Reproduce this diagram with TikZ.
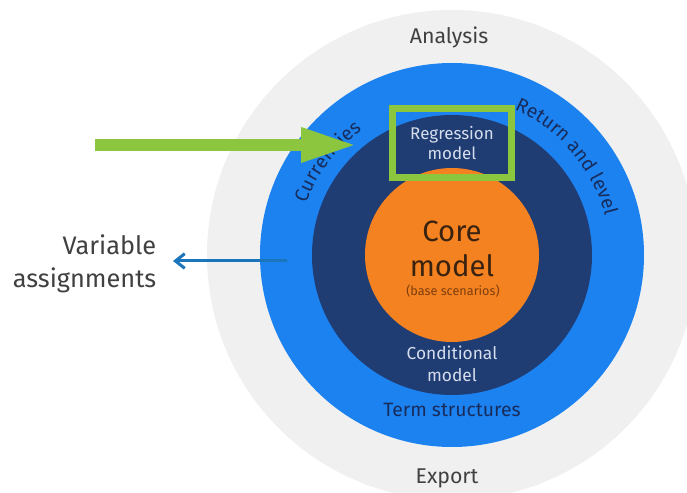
\documentclass[tikz,border=0pt]{standalone}
\usepackage{fontspec}
\setmainfont{Fira Sans}
\usepackage{tikz}
\usetikzlibrary{calc,arrows.meta,decorations.text}

\definecolor{ringgray}{RGB}{240,240,240}
\definecolor{ringblue}{RGB}{28,130,240}
\definecolor{ringnavy}{RGB}{31,60,115}
\definecolor{coreorange}{RGB}{244,130,32}
\definecolor{markgreen}{RGB}{140,198,63}
\definecolor{arrowblue}{RGB}{27,117,187}
\definecolor{labelgray}{RGB}{64,64,64}
\definecolor{navytext}{RGB}{24,44,92}
\definecolor{paletext}{RGB}{214,222,238}
\definecolor{browntext}{RGB}{58,34,16}
\definecolor{scentext}{RGB}{125,62,14}

\newcommand{\fsz}[2]{\fontsize{#1}{#2}\selectfont}
\newcommand{\ringfont}{\fsz{14.5}{17}\color{navytext}}

\tikzset{
  ringlabel/.style={decorate, decoration={text along path, text align=center, text={|\ringfont|#1}}},
  outerlabel/.style={text=labelgray, font=\fsz{16}{19}},
  innerlabel/.style={text=paletext, align=center},
}

\begin{document}
\begin{tikzpicture}[x=0.75pt, y=0.75pt]
\clip (0,0) rectangle (687,493);
\fill[white] (0,0) rectangle (687,493);
\coordinate (c) at (452,238);
% rings
\fill[ringgray] (c) circle[radius=245];
\fill[ringblue] (c) circle[radius=192];
\fill[ringnavy] (c) circle[radius=140];
\fill[coreorange] (c) circle[radius=87];

% ring texts
\node[outerlabel] (analysis) at (449,456) {Analysis};
\node[outerlabel] (export) at (447,15) {Export};
\node[text=navytext, font=\fsz{14.5}{17}] (term) at (452,83) {Term structures};
\path[ringlabel={Currencies}] ($(c)+(163:154)$) arc[start angle=163, end angle=123, radius=154];
\path[ringlabel={Return and level}] ($(c)+(68:158)$) arc[start angle=68, end angle=13, radius=158];

% inner circles
\node[innerlabel, font=\fsz{13}{16.5}] (cond) at (452,129) {Conditional\\model};
\node[text=browntext, font=\fsz{22}{26}, align=center] (core) at (452,244) {Core\\model};
\node[text=scentext, font=\fsz{9.5}{11}] (scen) at (453,202) {(base scenarios)};
\node[innerlabel, font=\fsz{12.7}{15}, draw=markgreen, line width=5.25pt,
      minimum width=89pt, minimum height=52pt] (regr) at (452,350) {Regression\\model};

% left side
\node[text=labelgray, font=\fsz{19}{25}, align=right, anchor=east] (var) at (161,229.5) {Variable\\assignments};
\coordinate (gout) at (95,348);
\coordinate (gin) at (357,348);
\draw[markgreen, line width=9pt, -{Triangle[length=42pt,width=24pt]}] (gout) -- (gin);
\coordinate (vout) at (287,232);
\draw[arrowblue, line width=2.25pt, -{Straight Barb[length=7pt,width=11pt]}, shorten >=9pt] (vout) -- (var.east |- vout);
\end{tikzpicture}
\end{document}
